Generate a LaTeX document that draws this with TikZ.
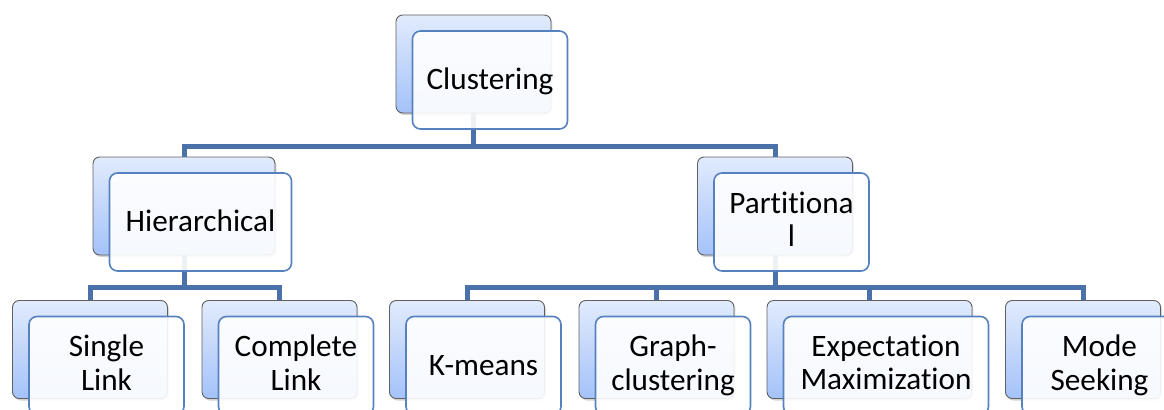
\documentclass[tikz,border=0pt]{standalone}
\usepackage{fontspec}
\setmainfont{Carlito}[Ligatures=NoCommon, Contextuals=NoAlternate]
\usetikzlibrary{shadows}
\definecolor{backtop}{HTML}{E1EBFC}
\definecolor{backbot}{HTML}{A4C2FA}
\definecolor{frontline}{HTML}{5582BE}
\definecolor{linkblue}{HTML}{4A71A9}
\newcommand{\boxstrut}{\rule[-4.5pt]{0pt}{23.5pt}}

\begin{document}
\begin{tikzpicture}
[
x=0.75pt, y=0.75pt,
backbox/.style={rectangle, draw=gray!75!black, line width=0.7pt, rounded corners=5pt, top color=backtop, bottom color=backbot, minimum width=116.25pt, minimum height=73.5pt, inner sep=0pt, drop shadow={opacity=0.35, shadow xshift=1pt, shadow yshift=-1.5pt}},
frontbox/.style={rectangle, draw=frontline, line width=1.2pt, rounded corners=6pt, fill=white, fill opacity=0.9, text opacity=1, minimum width=116.25pt, minimum height=73.5pt, inner sep=0pt, align=center, font=\fontsize{23.4}{25}\selectfont, execute at begin node=\boxstrut, execute at end node=\boxstrut},
link/.style={draw=linkblue, line width=3.75pt},
]
\useasboundingbox (0,0) rectangle (1164,-410);

% back boxes
\node at (473.5,-64) [backbox]      (clu)     {};
\node at (184,-206) [backbox, minimum width=136.5pt]      (hie)     {};
\node at (775,-206) [backbox]      (par)     {};
\node at (90,-349.5) [backbox]      (sin)     {};
\node at (279.5,-349.5) [backbox]      (com)     {};
\node at (467,-349.5) [backbox]      (kme)     {};
\node at (656.5,-349.5) [backbox]      (gra)     {};
\node at (869.5,-349.5) [backbox, minimum width=153.75pt]      (exp)     {};
\node at (1083,-349.5) [backbox]      (mod)     {};

% connectors
\draw[link] (clu.south) -- ++(0,-33) coordinate (clu-bus) -| (hie.north);
\draw[link] (clu-bus) -| (par.north);
\draw[link] (hie.south) -- ++(0,-32) coordinate (hie-bus) -| (sin.north);
\draw[link] (hie-bus) -| (com.north);
\draw[link] (par.south) -- ++(0,-32) coordinate (par-bus) -| (kme.north);
\draw[link] (par-bus) -| (gra.north);
\draw[link] (par-bus) -| (exp.north);
\draw[link] (par-bus) -| (mod.north);

% front boxes
\node at ([shift={(16.5,-16)}]clu) [frontbox]      (clu-f)     {Clustering};
\node at ([shift={(16.5,-16)}]hie) [frontbox, minimum width=136.5pt]      (hie-f)     {Hierarchical};
\node at ([shift={(16.5,-16)}]par) [frontbox]      (par-f)     {Partitiona\\l};
\node at ([shift={(16.5,-16)}]sin) [frontbox]      (sin-f)     {Single\\Link};
\node at ([shift={(16.5,-16)}]com) [frontbox]      (com-f)     {Complete\\Link};
\node at ([shift={(16.5,-16)}]kme) [frontbox]      (kme-f)     {K-means};
\node at ([shift={(16.5,-16)}]gra) [frontbox]      (gra-f)     {Graph-\\clustering};
\node at ([shift={(16.5,-16)}]exp) [frontbox, minimum width=153.75pt]      (exp-f)     {Expectation\\Maximization};
\node at ([shift={(16.5,-16)}]mod) [frontbox]      (mod-f)     {Mode\\Seeking};
\end{tikzpicture}
\end{document}
